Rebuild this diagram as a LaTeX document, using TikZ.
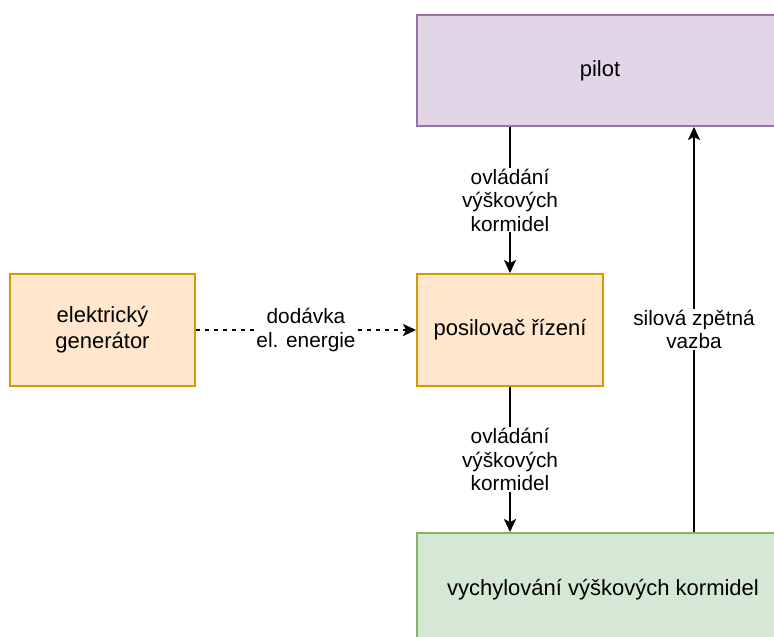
\documentclass[tikz,border=0pt]{standalone}
\usepackage{fontspec}
\setmainfont{Liberation Sans}
\usetikzlibrary{arrows.meta,calc}
\definecolor{pilotfill}{HTML}{E1D5E7}
\definecolor{pilotline}{HTML}{9673A6}
\definecolor{unitfill}{HTML}{FFE6CC}
\definecolor{unitline}{HTML}{D79B00}
\definecolor{outfill}{HTML}{D5E8D4}
\definecolor{outline}{HTML}{82B366}
\tikzset{
  block/.style={rectangle, line width=1.9pt, inner sep=0pt, align=center,
    font=\fontsize{22}{26}\selectfont},
  pilotbox/.style={block, fill=pilotfill, draw=pilotline},
  unitbox/.style={block, fill=unitfill, draw=unitline},
  outbox/.style={block, fill=outfill, draw=outline},
  link/.style={line width=1.9pt, -{Stealth[length=13pt,width=12pt,inset=3pt]}},
  dashlink/.style={link, dash pattern=on 4.5pt off 4.5pt},
  lbl/.style={fill=white, inner sep=1pt, align=center,
    font=\fontsize{20.8}{23.5}\selectfont}
}
\begin{document}
\begin{tikzpicture}[x=1pt,y=-1pt]
  \useasboundingbox (0,0) rectangle (774,637);
  \clip (0,0) rectangle (774,637);

  % blocks
  \node[pilotbox, minimum width=366pt, minimum height=111pt] (pilot) at (600,70.5) {pilot};
  \node[unitbox, minimum width=185pt, minimum height=112pt] (gen) at (102.5,330) {elektrický\\generátor};
  \node[unitbox, minimum width=186pt, minimum height=112pt] (pos) at (510,330) {posilovač řízení};
  \node[outbox, minimum width=372pt, minimum height=114pt] (out) at (603,590) {vychylování výškových kormidel};

  % connectors
  \draw[link] (pos.north |- pilot.south) -- node[lbl] {ovládání\\výškových\\kormidel} (pos.north);
  \draw[link] (pos.south) -- node[lbl] {ovládání\\výškových\\kormidel} (pos.south |- out.north);
  \draw[dashlink] (gen.east) -- node[lbl, pos=0.5] {dodávka\\el. energie} (pos.west);
  \coordinate (fb) at (694,0);
  \draw[link] (fb |- out.north) -- node[lbl] {silová zpětná\\vazba} (fb |- pilot.south);
\end{tikzpicture}
\end{document}
